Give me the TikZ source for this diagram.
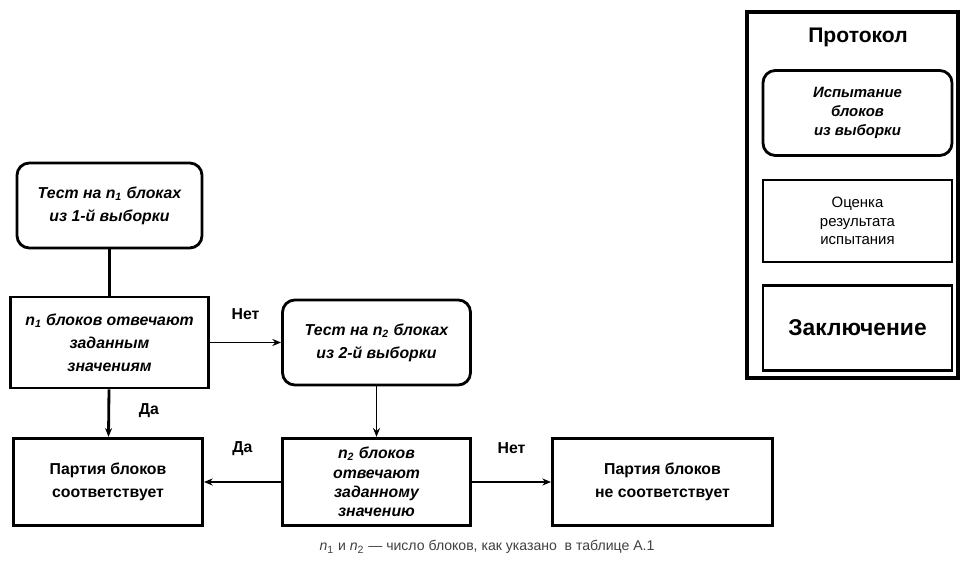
\documentclass[tikz,border=0pt]{standalone}
\usepackage{fontspec}
\setmainfont{Liberation Sans}
\usepackage{tikz}
\usetikzlibrary{arrows.meta}
\usetikzlibrary{positioning}

\newcommand{\nidx}[1]{\textit{n}\textsubscript{#1}}

\tikzset{
  testbox/.style={draw,line width=1.6pt,rounded corners=7pt,minimum width=3.7cm,minimum height=1.7cm,align=center,font=\fontsize{9}{13}\selectfont\bfseries\itshape},
  checkbox/.style={draw,line width=1.6pt,minimum width=3.8cm,minimum height=1.75cm,align=center,font=\fontsize{9}{13}\selectfont\bfseries\itshape},
  lotbox/.style={draw,line width=1.6pt,minimum width=3.8cm,minimum height=1.75cm,align=center,font=\fontsize{9}{13}\selectfont\bfseries},
  lbl/.style={font=\fontsize{9}{11}\selectfont\bfseries}
}

\begin{document}
\begin{tikzpicture}[-{Stealth[length=5pt,width=4pt]},line width=1.1pt,node distance=3cm,on grid]
  \useasboundingbox (0,0) rectangle (19.22,-11.24);
        \node[testbox] (t1) at (2.19,-4.11) {Тест на \nidx{1} блоках\\из 1-й выборки};
        \node[checkbox,minimum width=3.96cm,minimum height=1.82cm] (c1) [below=2.74cm of t1] {\nidx{1} блоков отвечают\\заданным\\значениям};
        \node[testbox,minimum width=3.76cm] (t2) [right=5.34cm of c1] {Тест на \nidx{2} блоках\\из 2-й выборки};
        \node[checkbox,minimum width=3.76cm,font=\fontsize{9}{11}\selectfont\bfseries\itshape] (c2) [below=2.79cm of t2] {\nidx{2} блоков\\отвечают\\заданному\\значению};
        \node[lotbox,minimum width=3.78cm] (ok) [left=5.37cm of c2] {Партия блоков\\соответствует};
        \node[lotbox,minimum width=4.4cm] (nok) [right=5.72cm of c2] {Партия блоков\\не соответствует};
        \draw[-,line width=1.8pt] (t1) -- (c1);
        \draw (c1) -- node[lbl,above=9pt] {Нет} (t2);
        \draw[line width=1.6pt] (c1) -- node[lbl,right=13pt,pos=0.45] {Да} (ok);
        \draw (t2) -- (c2);
        \draw (c2) -- node[lbl,above=11pt] {Да} (ok);
        \draw (c2) -- node[lbl,above=12pt] {Нет} (nok);
        % protocol legend
        \node[draw,line width=1.8pt,minimum width=4.22cm,minimum height=7.32cm] (legend) at (17.05,-3.9) {};
        \node[font=\fontsize{12}{14}\selectfont\bfseries] (proto) at (17.16,-0.74) {Протокол};
        \node[testbox,minimum width=3.78cm,font=\fontsize{8.5}{11}\selectfont\bfseries\itshape] (ltest) at (17.15,-2.26) {Испытание\\блоков\\из выборки};
        \node[draw,line width=1.6pt,minimum width=3.78cm,minimum height=1.64cm,align=center,font=\fontsize{8.5}{10.5}\selectfont] (leval) at (17.15,-4.42) {Оценка\\результата\\испытания};
        \node[draw,line width=1.6pt,minimum width=3.78cm,minimum height=1.7cm,font=\fontsize{13}{15}\selectfont\bfseries] (lconc) at (17.15,-6.56) {Заключение};
        \node[font=\fontsize{8}{10}\selectfont,text=black!75] (note) at (9.74,-10.94) {\nidx{1} и \nidx{2} — число блоков, как указано\ \ в таблице А.1};
    \end{tikzpicture}
\end{document}
